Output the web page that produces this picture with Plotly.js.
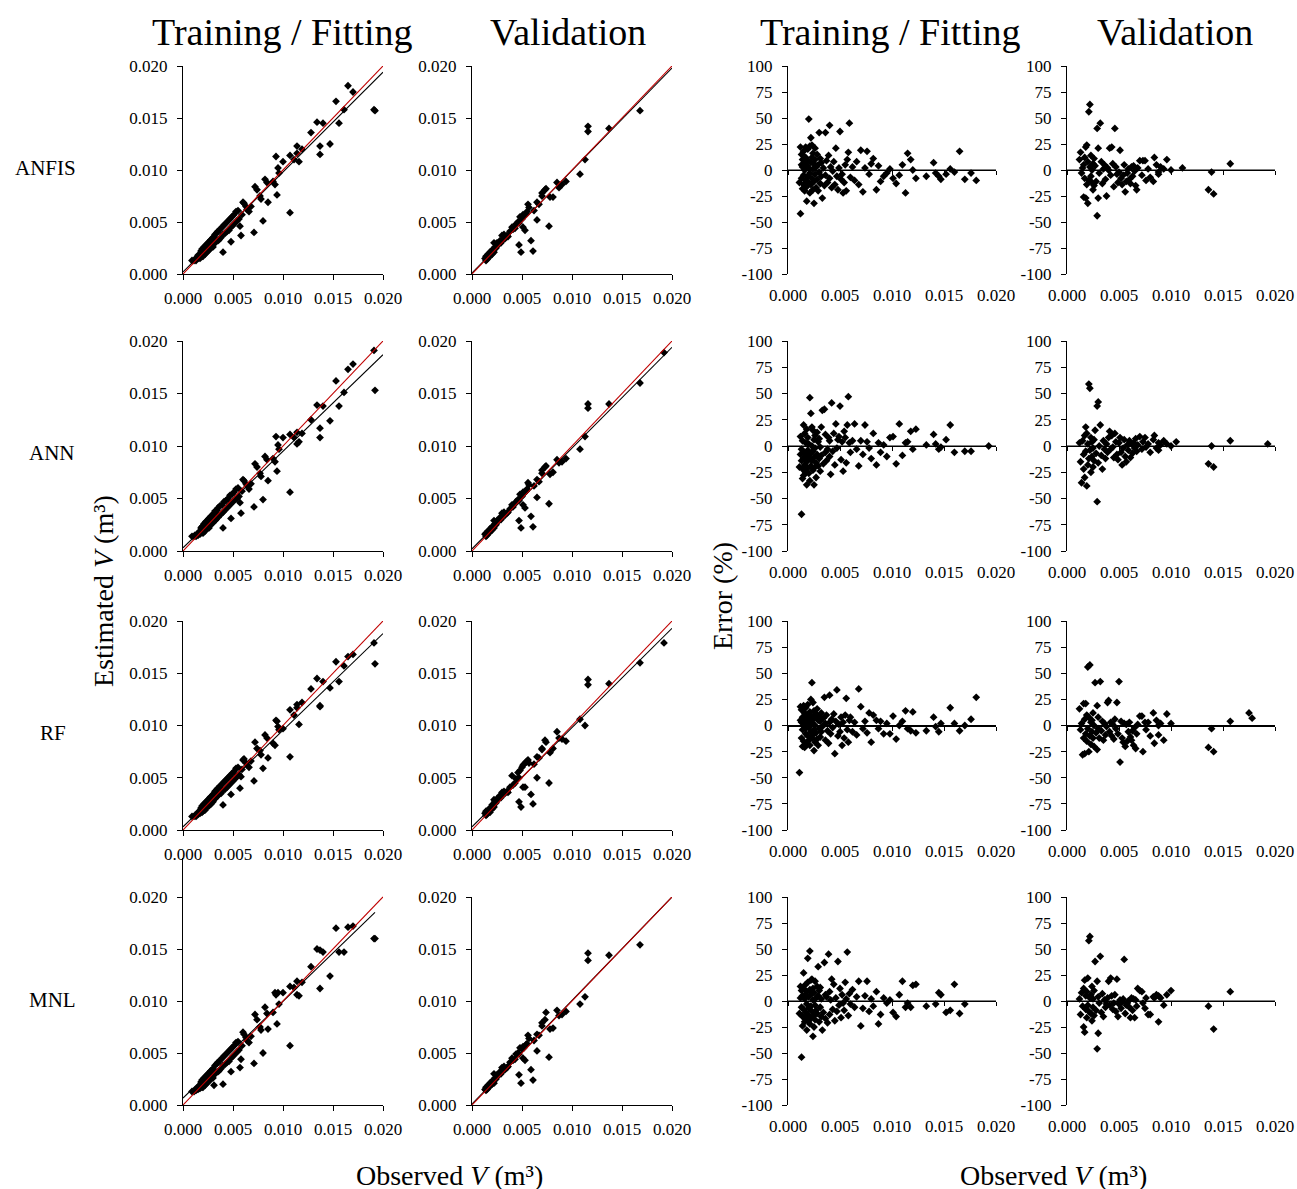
<!DOCTYPE html>
<html>
<head>
<meta charset="utf-8">
<script src="https://cdn.plot.ly/plotly-3.0.1.min.js"></script>
<style>html,body{margin:0;padding:0;background:#fff;}#chart{width:1297px;height:1189px;}</style>
</head>
<body>
<div id="chart"></div>
<script>
// ---------------- DATA ----------------
const models = ['ANFIS', 'ANN', 'RF', 'MNL'];
const columnTitles = ['Training / Fitting', 'Validation', 'Training / Fitting', 'Validation'];
const volTickVals = [0, 0.005, 0.010, 0.015, 0.020];
const volTickText = ['0.000', '0.005', '0.010', '0.015', '0.020'];
const errTickVals = [-100, -75, -50, -25, 0, 25, 50, 75, 100];
const errTickText = ['-100', '-75', '-50', '-25', '0', '25', '50', '75', '100'];

// Training / fitting: observed V (m3)
const trainObs = [
 0.0009,0.0011,0.0012,0.0013,0.0014,0.0015,0.0015,0.0016,0.0017,0.0017,
 0.0018,0.0019,0.0019,0.0020,0.0020,0.0021,0.0021,0.0022,0.0022,0.0023,
 0.0023,0.0024,0.0024,0.0025,0.0025,0.0026,0.0026,0.0027,0.0027,0.0028,
 0.0028,0.0029,0.0030,0.0030,0.0031,0.0032,0.0032,0.0033,0.0034,0.0035,
 0.0035,0.0036,0.0037,0.0038,0.0039,0.0040,0.0040,0.0041,0.0042,0.0043,
 0.0044,0.0045,0.0046,0.0047,0.0048,0.0048,0.0049,0.0050,0.0051,0.0052,
 0.0053,0.0054,0.0055,0.0056,0.0057,0.0058,0.0059,0.0060,0.0061,0.0063,
 0.0064,0.0066,0.0068,0.0071,0.0072,0.0074,0.0077,0.0078,0.0080,0.0082,
 0.0084,0.0085,0.0090,0.0092,0.0093,0.0094,0.0095,0.0096,0.0100,0.0107,
 0.0107,0.0111,0.0114,0.0114,0.0116,0.0119,0.0128,0.0134,0.0137,0.0137,
 0.0140,0.0147,0.0153,0.0156,0.0161,0.0165,0.0170,0.0191,0.0192];
// Training / fitting: estimated V (m3) per model
const anfisTrainEst = [
 0.0013,0.0013,0.0014,0.0013,0.0016,0.0015,0.0018,0.0016,0.0019,0.0015,
 0.0022,0.0017,0.0024,0.0023,0.0017,0.0026,0.0019,0.0025,0.0019,0.0028,
 0.0021,0.0028,0.0021,0.0030,0.0023,0.0030,0.0023,0.0032,0.0025,0.0033,
 0.0025,0.0031,0.0035,0.0026,0.0036,0.0030,0.0038,0.0031,0.0040,0.0032,
 0.0041,0.0033,0.0043,0.0035,0.0045,0.0021,0.0038,0.0047,0.0039,0.0049,
 0.0041,0.0051,0.0042,0.0053,0.0031,0.0045,0.0055,0.0047,0.0057,0.0049,
 0.0060,0.0051,0.0061,0.0053,0.0046,0.0037,0.0057,0.0069,0.0068,0.0065,
 0.0062,0.0060,0.0065,0.0040,0.0084,0.0081,0.0075,0.0072,0.0051,0.0091,
 0.0088,0.0069,0.0089,0.0086,0.0113,0.0076,0.0102,0.0097,0.0108,0.0059,
 0.0114,0.0110,0.0123,0.0116,0.0108,0.0120,0.0136,0.0146,0.0115,0.0123,
 0.0145,0.0125,0.0166,0.0145,0.0158,0.0181,0.0175,0.0158,0.0157];
const annTrainEst = [
 0.0014,0.0014,0.0015,0.0014,0.0016,0.0015,0.0017,0.0017,0.0019,0.0016,
 0.0022,0.0018,0.0023,0.0024,0.0017,0.0026,0.0019,0.0026,0.0019,0.0028,
 0.0021,0.0028,0.0021,0.0030,0.0023,0.0031,0.0022,0.0032,0.0025,0.0033,
 0.0025,0.0032,0.0035,0.0027,0.0036,0.0029,0.0038,0.0030,0.0039,0.0032,
 0.0041,0.0034,0.0043,0.0035,0.0044,0.0022,0.0037,0.0047,0.0039,0.0048,
 0.0041,0.0050,0.0043,0.0053,0.0031,0.0045,0.0054,0.0047,0.0056,0.0049,
 0.0059,0.0050,0.0060,0.0052,0.0046,0.0036,0.0057,0.0068,0.0067,0.0064,
 0.0062,0.0059,0.0064,0.0042,0.0083,0.0080,0.0074,0.0071,0.0049,0.0090,
 0.0087,0.0067,0.0088,0.0085,0.0109,0.0076,0.0101,0.0097,0.0108,0.0056,
 0.0111,0.0108,0.0113,0.0102,0.0104,0.0112,0.0125,0.0139,0.0117,0.0108,
 0.0138,0.0124,0.0162,0.0138,0.0151,0.0173,0.0178,0.0191,0.0153];
const rfTrainEst = [
 0.0013,0.0013,0.0014,0.0013,0.0015,0.0015,0.0017,0.0016,0.0018,0.0016,
 0.0021,0.0017,0.0023,0.0023,0.0018,0.0025,0.0019,0.0025,0.0019,0.0027,
 0.0021,0.0027,0.0022,0.0029,0.0023,0.0029,0.0023,0.0031,0.0025,0.0032,
 0.0025,0.0031,0.0034,0.0027,0.0035,0.0030,0.0037,0.0031,0.0039,0.0033,
 0.0040,0.0034,0.0042,0.0035,0.0044,0.0024,0.0038,0.0046,0.0039,0.0048,
 0.0041,0.0050,0.0043,0.0052,0.0034,0.0045,0.0054,0.0047,0.0056,0.0049,
 0.0059,0.0051,0.0060,0.0053,0.0040,0.0051,0.0058,0.0067,0.0068,0.0064,
 0.0062,0.0060,0.0066,0.0047,0.0084,0.0078,0.0076,0.0072,0.0059,0.0091,
 0.0088,0.0069,0.0083,0.0081,0.0105,0.0104,0.0099,0.0096,0.0097,0.0070,
 0.0115,0.0110,0.0120,0.0117,0.0101,0.0122,0.0135,0.0145,0.0119,0.0118,
 0.0142,0.0136,0.0161,0.0142,0.0157,0.0166,0.0168,0.0179,0.0159];
const mnlTrainEst = [
 0.0013,0.0013,0.0014,0.0014,0.0016,0.0015,0.0017,0.0016,0.0019,0.0016,
 0.0022,0.0017,0.0024,0.0023,0.0017,0.0026,0.0019,0.0025,0.0019,0.0028,
 0.0021,0.0028,0.0021,0.0030,0.0023,0.0030,0.0023,0.0032,0.0025,0.0033,
 0.0025,0.0031,0.0035,0.0026,0.0019,0.0030,0.0038,0.0031,0.0040,0.0032,
 0.0041,0.0033,0.0043,0.0035,0.0045,0.0020,0.0038,0.0047,0.0039,0.0049,
 0.0041,0.0051,0.0042,0.0053,0.0032,0.0045,0.0055,0.0047,0.0057,0.0049,
 0.0060,0.0051,0.0061,0.0053,0.0036,0.0044,0.0057,0.0070,0.0068,0.0065,
 0.0062,0.0060,0.0066,0.0040,0.0087,0.0082,0.0075,0.0072,0.0050,0.0094,
 0.0088,0.0073,0.0089,0.0108,0.0106,0.0078,0.0108,0.0097,0.0108,0.0057,
 0.0114,0.0113,0.0119,0.0106,0.0105,0.0118,0.0133,0.0150,0.0112,0.0149,
 0.0147,0.0124,0.0170,0.0147,0.0147,0.0171,0.0172,0.0160,0.0160];

// Validation: observed V (m3)
const valObs = [
 0.0013,0.0014,0.0014,0.0015,0.0015,0.0016,0.0016,0.0017,0.0018,0.0018,
 0.0019,0.0020,0.0020,0.0021,0.0022,0.0022,0.0023,0.0024,0.0025,0.0026,
 0.0027,0.0028,0.0029,0.0030,0.0031,0.0032,0.0033,0.0035,0.0036,0.0038,
 0.0040,0.0041,0.0043,0.0044,0.0046,0.0047,0.0047,0.0048,0.0049,0.0050,
 0.0051,0.0051,0.0052,0.0053,0.0054,0.0055,0.0056,0.0057,0.0059,0.0061,
 0.0062,0.0065,0.0065,0.0067,0.0070,0.0070,0.0073,0.0074,0.0077,0.0078,
 0.0081,0.0085,0.0087,0.0090,0.0094,0.0108,0.0113,0.0116,0.0116,0.0137,
 0.0168,0.0192];
const anfisValEst = [
 0.0015,0.0013,0.0017,0.0016,0.0014,0.0019,0.0017,0.0018,0.0021,0.0017,
 0.0020,0.0023,0.0019,0.0022,0.0030,0.0021,0.0026,0.0025,0.0030,0.0028,
 0.0029,0.0032,0.0030,0.0037,0.0033,0.0038,0.0034,0.0037,0.0036,0.0041,
 0.0045,0.0043,0.0044,0.0048,0.0050,0.0049,0.0028,0.0055,0.0021,0.0053,
 0.0057,0.0045,0.0056,0.0042,0.0058,0.0060,0.0067,0.0064,0.0032,0.0022,
 0.0061,0.0069,0.0052,0.0067,0.0078,0.0075,0.0081,0.0082,0.0046,0.0074,
 0.0074,0.0088,0.0083,0.0086,0.0089,0.0096,0.0110,0.0142,0.0137,0.0140,
 0.0157,null];
const annValEst = [
 0.0016,0.0014,0.0017,0.0017,0.0015,0.0019,0.0018,0.0018,0.0021,0.0018,
 0.0021,0.0023,0.0020,0.0022,0.0029,0.0022,0.0026,0.0025,0.0029,0.0028,
 0.0030,0.0032,0.0030,0.0036,0.0033,0.0037,0.0034,0.0036,0.0037,0.0040,
 0.0044,0.0042,0.0045,0.0047,0.0049,0.0048,0.0029,0.0054,0.0022,0.0052,
 0.0056,0.0044,0.0055,0.0041,0.0057,0.0059,0.0065,0.0063,0.0033,0.0023,
 0.0062,0.0068,0.0051,0.0066,0.0077,0.0074,0.0080,0.0081,0.0045,0.0073,
 0.0075,0.0087,0.0084,0.0085,0.0088,0.0097,0.0109,0.0140,0.0136,0.0140,
 0.0160,0.0189];
const rfValEst = [
 0.0016,0.0014,0.0018,0.0016,0.0015,0.0019,0.0017,0.0019,0.0021,0.0017,
 0.0021,0.0024,0.0020,0.0023,0.0029,0.0022,0.0027,0.0026,0.0030,0.0029,
 0.0030,0.0033,0.0031,0.0036,0.0034,0.0037,0.0035,0.0037,0.0036,0.0041,
 0.0052,0.0043,0.0045,0.0049,0.0055,0.0050,0.0027,0.0057,0.0022,0.0060,
 0.0062,0.0041,0.0063,0.0041,0.0065,0.0066,0.0067,0.0064,0.0034,0.0025,
 0.0063,0.0070,0.0050,0.0069,0.0077,0.0078,0.0086,0.0084,0.0045,0.0074,
 0.0078,0.0094,0.0088,0.0087,0.0085,0.0106,0.0100,0.0144,0.0139,0.0140,
 0.0160,0.0179];
const mnlValEst = [
 0.0015,0.0014,0.0017,0.0016,0.0015,0.0019,0.0017,0.0018,0.0021,0.0018,
 0.0020,0.0023,0.0020,0.0022,0.0030,0.0021,0.0026,0.0025,0.0029,0.0028,
 0.0030,0.0032,0.0030,0.0036,0.0033,0.0037,0.0034,0.0036,0.0037,0.0041,
 0.0045,0.0043,0.0044,0.0049,0.0050,0.0049,0.0029,0.0055,0.0021,0.0054,
 0.0056,0.0045,0.0055,0.0043,0.0058,0.0059,0.0067,0.0064,0.0034,0.0024,
 0.0062,0.0068,0.0052,0.0067,0.0079,0.0076,0.0082,0.0089,0.0046,0.0073,
 0.0074,0.0091,0.0086,0.0087,0.0090,0.0097,0.0104,0.0146,0.0139,0.0144,
 0.0154,null];

// Fitted regression lines (estimated = slope * observed + intercept)
const trainFitSlope = [0.96, 0.92, 0.925, 0.93];
const trainFitIntercept = [0.0002, 0.0003, 0.0003, 0.00067];
const trainFitXMax = [0.020, 0.020, 0.020, 0.0192];
const valFitSlope = [0.985, 0.96, 0.95, 0.995];
const valFitIntercept = [0.0001, 0.0002, 0.0003, 0.0001];
const valFitXMax = [0.020, 0.020, 0.020, 0.020];

// Error (%) panels: training / fitting
const errTrainObs = [
 0.0011,0.0012,0.0012,0.0013,0.0013,0.0013,0.0014,0.0014,0.0014,0.0015,
 0.0015,0.0015,0.0016,0.0016,0.0016,0.0017,0.0017,0.0017,0.0018,0.0018,
 0.0018,0.0019,0.0019,0.0019,0.0020,0.0020,0.0020,0.0021,0.0021,0.0021,
 0.0022,0.0022,0.0022,0.0023,0.0023,0.0023,0.0024,0.0024,0.0024,0.0025,
 0.0025,0.0025,0.0026,0.0026,0.0026,0.0027,0.0027,0.0028,0.0028,0.0029,
 0.0029,0.0030,0.0030,0.0031,0.0031,0.0032,0.0032,0.0033,0.0034,0.0035,
 0.0036,0.0036,0.0037,0.0038,0.0039,0.0040,0.0040,0.0041,0.0042,0.0043,
 0.0044,0.0045,0.0046,0.0047,0.0048,0.0049,0.0050,0.0051,0.0052,0.0053,
 0.0054,0.0055,0.0056,0.0057,0.0058,0.0059,0.0060,0.0062,0.0064,0.0066,
 0.0068,0.0070,0.0072,0.0074,0.0076,0.0078,0.0080,0.0082,0.0085,0.0087,
 0.0089,0.0092,0.0095,0.0098,0.0101,0.0104,0.0107,0.0110,0.0113,0.0115,
 0.0118,0.0120,0.0123,0.0133,0.0140,0.0142,0.0145,0.0147,0.0152,0.0156,
 0.0160,0.0165,0.0170,0.0176,0.0181,0.0193];
const anfisTrainErr = [
 -12,-42,22,5,-8,15,-18,3,10,-5,
 18,-14,8,-20,0,12,-10,22,-30,4,
 -16,20,-6,9,49,-12,2,23,-22,-3,
 31,7,-14,24,-8,12,-19,1,16,-32,
 6,-11,21,-4,10,-17,3,15,-9,5,
 -20,36,-2,11,-13,7,-6,-27,2,-15,
 36,-5,9,-12,14,43,-8,3,-17,-1,
 8,-14,21,-6,-19,2,37,-9,-4,-22,
 -12,5,-20,10,17,45,-7,3,-10,8,
 -14,19,-21,2,18,-4,6,11,-19,4,
 -11,-6,-3,1,-8,-13,-5,5,-22,16,
 10,0,-8,-6,7,-3,-6,-9,-4,1,
 -2,18,-9,-3,-10,null];
const annTrainErr = [
 -20,-8,9,-65,-14,-3,-31,-22,5,-12,
 20,-28,-6,-18,12,-25,3,-10,-37,16,
 -15,-4,-21,8,-9,2,-26,46,-12,-33,
 31,-7,-19,18,-14,0,-23,-5,15,-37,
 -11,6,-20,-2,10,-16,-30,-8,13,-19,
 4,-12,7,-24,-1,18,-9,34,-17,35,
 -6,11,-14,-3,8,5,-10,-27,41,-5,
 12,-18,21,-2,6,9,38,-13,4,-24,
 14,8,-16,20,47,3,-6,5,21,-3,
 -19,5,-8,20,4,-2,-12,12,-18,3,
 -6,1,-10,8,9,-17,21,-9,3,4,
 14,-3,16,1,11,2,-3,-1,6,20,
 -6,null,-5,-5,null,0];
const rfTrainErr = [
 -45,5,18,-12,3,15,-20,-4,8,19,
 -15,0,6,-21,12,-8,17,-3,-18,9,
 2,20,-10,4,-14,7,-2,13,-19,1,
 25,-6,10,41,-12,3,22,-9,6,-24,
 14,-4,8,-16,0,11,-7,16,-13,5,
 -19,9,-3,4,-11,12,-6,-1,7,27,
 -14,2,10,-5,-17,29,3,-8,6,-2,
 11,-27,4,34,-10,1,-6,8,-19,3,
 -12,10,26,-4,-16,5,8,-6,3,-9,
 35,18,-3,4,-7,12,-16,10,5,-3,
 4,-8,2,-8,9,-13,0,4,14,-3,
 -5,13,-7,-5,8,-1,-6,2,null,17,
 2,-5,0,6,27,null];
const mnlTrainErr = [
 -12,3,14,-54,-6,10,-24,5,-15,27,
 -8,12,-20,2,15,-11,6,-17,-28,9,
 -3,41,-13,18,-19,4,-7,48,-22,11,
 -5,20,-16,7,-10,21,-34,1,12,-25,
 -14,8,-4,19,-18,3,-9,14,-12,5,
 33,-20,10,-6,13,-15,2,-28,-11,37,
 6,-17,4,-21,45,9,-13,1,21,-8,
 16,-19,3,-10,38,-4,12,-16,6,-2,
 -9,18,2,47,-14,7,-3,11,-6,4,
 19,-24,-7,5,19,-10,2,-5,9,-22,
 -13,3,-2,1,-11,-15,6,19,-6,-2,
 -6,15,16,-5,null,-3,8,6,-11,-9,
 16,-12,-3,null,null,null];

// Error (%) panels: validation
const errValObs = [
 0.0012,0.0013,0.0014,0.0015,0.0016,0.0016,0.0017,0.0017,0.0018,0.0018,
 0.0019,0.0019,0.0020,0.0020,0.0021,0.0021,0.0022,0.0022,0.0023,0.0023,
 0.0024,0.0024,0.0025,0.0025,0.0026,0.0026,0.0027,0.0028,0.0029,0.0029,
 0.0030,0.0030,0.0031,0.0032,0.0033,0.0034,0.0035,0.0036,0.0037,0.0038,
 0.0039,0.0040,0.0041,0.0042,0.0043,0.0044,0.0045,0.0046,0.0047,0.0048,
 0.0049,0.0050,0.0051,0.0052,0.0053,0.0054,0.0055,0.0056,0.0057,0.0058,
 0.0059,0.0060,0.0061,0.0062,0.0063,0.0064,0.0065,0.0066,0.0067,0.0068,
 0.0070,0.0072,0.0073,0.0075,0.0076,0.0078,0.0080,0.0083,0.0084,0.0086,
 0.0088,0.0088,0.0090,0.0093,0.0096,0.0100,0.0105,0.0111,0.0136,0.0139,
 0.0141,0.0157,0.0175,0.0178,0.0193];
const anfisValErr = [
 10,17,-3,2,-26,5,12,-8,-27,22,
 -14,24,-32,8,56,-10,63,3,-6,14,
 -12,0,-19,6,11,-15,4,-11,40,-44,
 21,-27,-3,45,8,-13,1,5,-9,-25,
 2,0,21,-5,22,6,-16,40,3,-4,
 -12,-2,19,-8,-14,-5,5,-21,-11,-3,
 1,-9,-13,3,-6,4,-1,-15,-19,2,
 9,-5,9,9,-10,1,-7,-11,12,5,
 -2,-4,3,1,10,0,null,2,-19,-2,
 -23,6,null,null,null];
const annValErr = [
 3,-15,-35,5,-22,-8,10,-30,-5,18,
 -38,12,-18,2,59,-12,55,-4,-25,8,
 -10,4,-20,-2,6,-14,15,-7,38,-53,
 42,-16,0,20,-9,-22,5,-3,-12,2,
 -6,8,14,-3,10,-1,-11,12,4,-8,
 -13,3,8,-6,-18,-2,6,-10,-15,1,
 -4,5,-11,2,-7,3,-2,7,-5,1,
 9,-3,4,8,-1,2,-6,6,10,-2,
 3,-4,1,5,2,0,4,null,-17,0,
 -20,5,null,null,2];
const rfValErr = [
 16,-4,2,-28,21,-12,6,-27,21,-8,
 10,-15,56,-3,-25,8,58,-10,3,-18,
 5,-6,-12,12,0,-20,41,-7,19,-23,
 -3,8,-12,42,-5,4,-14,2,-9,-1,
 22,24,-6,3,-10,1,-13,6,-3,22,
 -8,42,-35,4,-12,-16,2,-20,1,-15,
 -6,3,-11,-14,-5,-19,-2,-22,-8,1,
 9,9,-25,3,-4,3,-10,12,-17,5,
 0,-9,2,-14,11,2,null,null,-21,-3,
 -25,4,12,7,null];
const mnlValErr = [
 2,-13,8,-5,-25,12,20,-30,-8,5,
 -16,9,22,-4,58,-10,62,3,-12,6,
 -19,14,-6,2,-14,10,38,-9,19,-46,
 -31,4,-2,43,-11,7,-15,1,-6,-3,
 3,19,-4,22,5,-8,-2,6,-10,21,
 -15,-3,1,-7,-1,2,40,-12,-4,-2,
 0,-6,-16,3,-9,2,-16,1,-5,12,
 10,9,-2,-7,3,-13,-13,4,3,6,
 -20,5,3,-4,6,10,null,null,-5,null,
 -27,9,null,null,null];

// ---------------- CHART ----------------
const trainEst = [anfisTrainEst, annTrainEst, rfTrainEst, mnlTrainEst];
const valEst = [anfisValEst, annValEst, rfValEst, mnlValEst];
const trainErr = [anfisTrainErr, annTrainErr, rfTrainErr, mnlTrainErr];
const valErr = [anfisValErr, annValErr, rfValErr, mnlValErr];

const W = 1297, H = 1189;
const FONT = 'Liberation Serif, Times New Roman, serif';
const colPx = [[183, 383], [472, 672], [788, 996], [1067, 1275]];
const rowPx = [[66, 274], [341, 551], [621, 830], [897, 1105]];
const xDom = c => [colPx[c][0] / W, colPx[c][1] / W];
const yDom = (top, bot) => [1 - bot / H, 1 - top / H];

const tickFont = {family: FONT, size: 17, color: '#000'};
const baseAxis = {
  showgrid: false, zeroline: false, fixedrange: true,
  linecolor: '#000', linewidth: 1, tickcolor: '#000', tickwidth: 1,
  tickfont: tickFont
};

const traces = [];
const layout = {
  width: W, height: H, margin: {l: 0, r: 0, t: 0, b: 0},
  paper_bgcolor: '#fff', plot_bgcolor: 'rgba(0,0,0,0)',
  showlegend: false, font: {family: FONT, color: '#000'},
  annotations: []
};

const marker = {symbol: 'diamond', size: 6, color: '#000'};
let overlayId = 17;

for (let r = 0; r < 4; r++) {
  for (let c = 0; c < 4; c++) {
    const k = r * 4 + c + 1;
    const xa = 'x' + (k === 1 ? '' : k), ya = 'y' + (k === 1 ? '' : k);
    const xKey = 'xaxis' + (k === 1 ? '' : k), yKey = 'yaxis' + (k === 1 ? '' : k);
    let top = rowPx[r][0];
    const bot = rowPx[r][1];
    if (c < 2) {
      // scatter: observed vs estimated
      let yMax = 0.020;
      if (r === 3 && c === 0) { top = 858; yMax = 0.020 * (bot - top) / (bot - rowPx[r][0]); }
      layout[xKey] = Object.assign({}, baseAxis, {
        domain: xDom(c), anchor: ya, range: [0, 0.020],
        tickvals: volTickVals, ticktext: volTickText,
        showline: true, ticks: 'outside', ticklen: 5, ticklabelstandoff: 4
      });
      layout[yKey] = Object.assign({}, baseAxis, {
        domain: yDom(top, bot), anchor: xa, range: [0, yMax],
        tickvals: volTickVals, ticktext: volTickText,
        showline: true, ticks: 'outside', ticklen: 5, ticklabelstandoff: 6
      });
      const isTrain = c === 0;
      const obs = isTrain ? trainObs : valObs;
      const est = isTrain ? trainEst[r] : valEst[r];
      traces.push({x: obs, y: est, xaxis: xa, yaxis: ya, type: 'scatter', mode: 'markers',
                   marker: marker, hoverinfo: 'x+y'});
      const a = isTrain ? trainFitSlope[r] : valFitSlope[r];
      const b = isTrain ? trainFitIntercept[r] : valFitIntercept[r];
      const xm = isTrain ? trainFitXMax[r] : valFitXMax[r];
      traces.push({x: [0, xm], y: [b, a * xm + b], xaxis: xa, yaxis: ya, type: 'scatter',
                   mode: 'lines', line: {color: '#000', width: 1.1}, hoverinfo: 'skip'});
      traces.push({x: [0, 0.020], y: [0, 0.020], xaxis: xa, yaxis: ya, type: 'scatter',
                   mode: 'lines', line: {color: '#C00000', width: 1.1}, hoverinfo: 'skip'});
    } else {
      // error (%) panels
      const yd = yDom(top, bot);
      layout[xKey] = Object.assign({}, baseAxis, {
        domain: xDom(c), anchor: ya, range: [0, 0.020],
        tickvals: volTickVals, ticktext: volTickText,
        showline: false, ticks: '', ticklabelstandoff: 9
      });
      layout[yKey] = Object.assign({}, baseAxis, {
        domain: yd, anchor: xa, range: [-100, 100],
        tickvals: errTickVals, ticktext: errTickText,
        showline: true, ticks: 'outside', ticklen: 5, ticklabelstandoff: 6
      });
      // zero line with its own ticks (axis crossing at 0)
      const oid = overlayId++;
      layout['xaxis' + oid] = Object.assign({}, baseAxis, {
        overlaying: xa, anchor: 'free', position: (yd[0] + yd[1]) / 2,
        range: [0, 0.020], tickvals: volTickVals, showticklabels: false,
        showline: true, ticks: 'outside', ticklen: 4
      });
      traces.push({x: [0, 0.020], y: [0, 0], xaxis: 'x' + oid, yaxis: ya, type: 'scatter',
                   mode: 'lines', line: {color: '#000', width: 1}, hoverinfo: 'skip'});
      const isTrain = c === 2;
      traces.push({x: isTrain ? errTrainObs : errValObs, y: isTrain ? trainErr[r] : valErr[r],
                   xaxis: xa, yaxis: ya, type: 'scatter', mode: 'markers', marker: marker,
                   hoverinfo: 'x+y'});
    }
  }
}

function ann(text, px, py, size, extra) {
  layout.annotations.push(Object.assign({
    text: text, x: px / W, y: 1 - py / H, xref: 'paper', yref: 'paper',
    xanchor: 'center', yanchor: 'middle', showarrow: false,
    font: {family: FONT, size: size, color: '#000'}
  }, extra || {}));
}
// column headers
const headerX = [282, 568, 890, 1175];
columnTitles.forEach((t, i) => ann(t, headerX[i], 32, 38));
// row labels
const rowLabelX = [45, 52, 53, 52];
const rowLabelY = [168, 453, 733, 1000];
models.forEach((m, i) => ann(m, rowLabelX[i], rowLabelY[i], 21));
// axis titles
ann('Estimated <i>V</i> (m³)', 103, 591, 28, {textangle: -90});
ann('Error (%)', 722, 596, 28, {textangle: -90});
ann('Observed <i>V</i> (m³)', 450, 1175, 28);
ann('Observed <i>V</i> (m³)', 1053, 1175, 28);

Plotly.newPlot('chart', traces, layout, {displayModeBar: false, staticPlot: true});
</script>
</body>
</html>
